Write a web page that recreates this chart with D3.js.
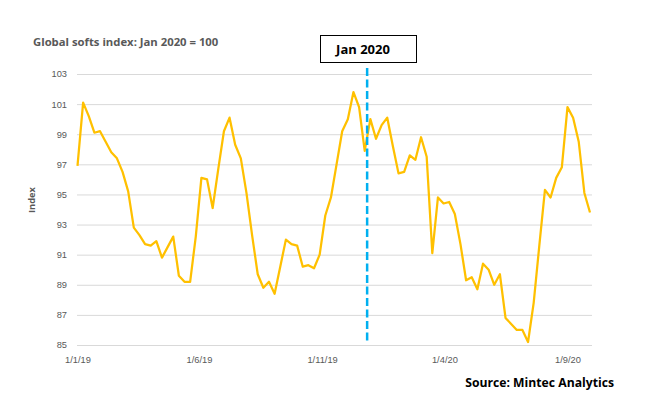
<!DOCTYPE html>
<html>
<head>
<meta charset="utf-8">
<script src="https://cdn.jsdelivr.net/npm/d3@7"></script>
<style>
  body { margin: 0; background: #fff; }
  svg { display: block; font-family: "Open Sans", sans-serif; }
</style>
</head>
<body>
<svg id="chart" width="648" height="394"></svg>
<script>
// weekly index values, first week of Jan 2019 onwards (Jan 2020 = 100)
const startDate = "2019-01-01";
const values = [
  96.9, 101.1, 100.2, 99.1, 99.2, 98.5, 97.8, 97.4, 96.5, 95.2,
  92.8, 92.3, 91.7, 91.6, 91.9, 90.8, 91.5, 92.2, 89.6, 89.2,
  89.2, 92.2, 96.1, 96.0, 94.1, 96.7, 99.2, 100.1, 98.3, 97.4,
  95.1, 92.3, 89.7, 88.8, 89.2, 88.4, 90.2, 92.0, 91.7, 91.6,
  90.2, 90.3, 90.1, 91.0, 93.6, 94.8, 97.0, 99.2, 100.0, 101.8,
  100.8, 97.9, 100.0, 98.7, 99.6, 100.1, 98.2, 96.4, 96.5, 97.6,
  97.3, 98.8, 97.5, 91.1, 94.8, 94.4, 94.5, 93.7, 91.7, 89.3,
  89.5, 88.7, 90.4, 90.0, 89.0, 89.7, 86.8, 86.4, 86.0, 86.0,
  85.2, 87.8, 91.6, 95.3, 94.8, 96.1, 96.8, 100.8, 100.1, 98.5,
  95.1, 93.8
];
const xTickLabels = ["2019-01-01", "2019-06-01", "2019-11-01", "2020-04-01", "2020-09-01"];
const yTicks = [85, 87, 89, 91, 93, 95, 97, 99, 101, 103];
const markerDate = "2019-12-27";
const markerLabel = "Jan 2020";

const parse = d3.timeParse("%Y-%m-%d");
const start = parse(startDate);
const data = values.map((v, i) => ({ date: d3.timeDay.offset(start, i * 7), value: v }));

const svg = d3.select("#chart");
const plotLeft = 77, plotRight = 592, plotTop = 74, plotBottom = 345;

const x = d3.scaleTime()
  .domain(d3.extent(data, d => d.date))
  .range([77.5, 590]);

const y = d3.scaleLinear()
  .domain([85, 103])
  .range([plotBottom, plotTop]);

// gridlines + y labels
const yAxis = svg.append("g")
  .attr("transform", `translate(${plotLeft},0)`)
  .call(d3.axisLeft(y).tickValues(yTicks).tickSize(-(plotRight - plotLeft)).tickPadding(10));
yAxis.select(".domain").remove();
yAxis.selectAll("line").attr("stroke", "#d9d9d9").attr("stroke-width", 1);
yAxis.selectAll("text").attr("fill", "#595959").style("font-size", "9.3px");

// x labels
const xAxis = svg.append("g")
  .attr("transform", `translate(0,${plotBottom})`)
  .call(d3.axisBottom(x)
    .tickValues(xTickLabels.map(parse))
    .tickFormat(d3.timeFormat("%-d/%-m/%y"))
    .tickSize(0)
    .tickPadding(11));
xAxis.select(".domain").remove();
xAxis.selectAll("text").attr("fill", "#595959").style("font-size", "9.3px");

// the index line
svg.append("path")
  .datum(data)
  .attr("fill", "none")
  .attr("stroke", "#ffc000")
  .attr("stroke-width", 2.25)
  .attr("stroke-linejoin", "round")
  .attr("d", d3.line().x(d => x(d.date)).y(d => y(d.value)));

// Jan 2020 marker
const mx = x(parse(markerDate));
svg.append("line")
  .attr("x1", mx).attr("x2", mx)
  .attr("y1", 68).attr("y2", 342)
  .attr("stroke", "#00b0f0")
  .attr("stroke-width", 2.5)
  .attr("stroke-dasharray", "8,3.5");

svg.append("rect")
  .attr("x", 320.5).attr("y", 35.5)
  .attr("width", 96).attr("height", 27)
  .attr("fill", "#fff")
  .attr("stroke", "#000")
  .attr("stroke-width", 1);

svg.append("text")
  .attr("x", 363).attr("y", 54)
  .attr("text-anchor", "middle")
  .attr("font-weight", "bold")
  .style("font-size", "13px")
  .attr("fill", "#000")
  .text(markerLabel);

// titles
svg.append("text")
  .attr("x", 33).attr("y", 46)
  .attr("font-weight", "bold")
  .style("font-size", "11.3px")
  .attr("fill", "#595959")
  .text("Global softs index: Jan 2020 = 100");

svg.append("text")
  .attr("transform", "translate(35,200) rotate(-90)")
  .attr("text-anchor", "middle")
  .attr("font-weight", "bold")
  .style("font-size", "9.3px")
  .attr("fill", "#595959")
  .text("Index");

svg.append("text")
  .attr("x", 614).attr("y", 387)
  .attr("text-anchor", "end")
  .attr("font-weight", "bold")
  .style("font-size", "12.2px")
  .attr("fill", "#000")
  .text("Source: Mintec Analytics");
</script>
</body>
</html>
